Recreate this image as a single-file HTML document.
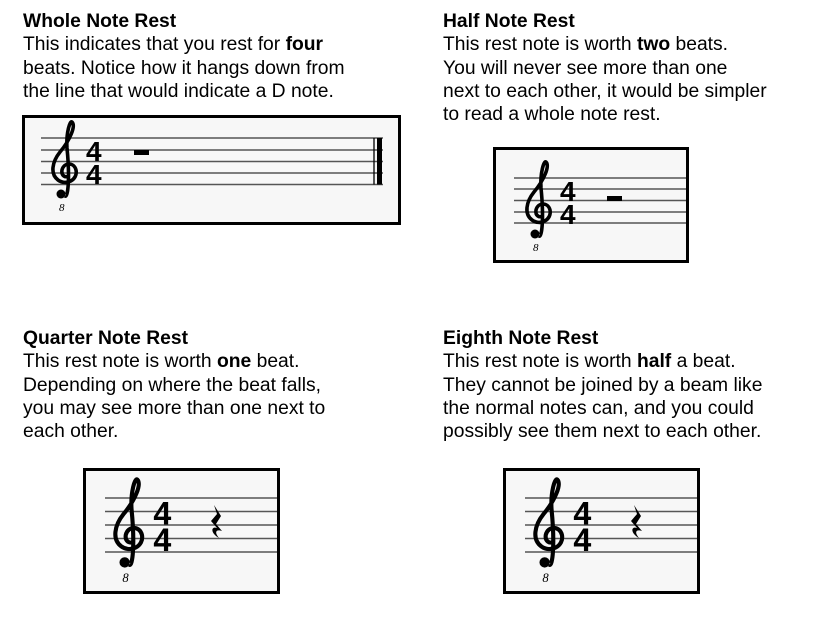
<!DOCTYPE html>
<html><head><meta charset="utf-8"><style>
body{margin:0;background:#fff;width:820px;height:618px;position:relative;overflow:hidden;font-family:"Liberation Sans",sans-serif;color:#000}
.t{position:absolute;font-size:19.3px;line-height:23.3px;white-space:nowrap}
svg{position:absolute;left:0;top:0}
</style></head><body>
<div class="t" style="left:23px;top:10px"><b>Whole Note Rest</b><br>This indicates that you rest for <b>four</b><br>beats. Notice how it hangs down from<br>the line that would indicate a D note.</div>
<div class="t" style="left:443px;top:10px"><b>Half Note Rest</b><br>This rest note is worth <b>two</b> beats.<br>You will never see more than one<br>next to each other, it would be simpler<br>to read a whole note rest.</div>
<div class="t" style="left:23px;top:327px"><b>Quarter Note Rest</b><br>This rest note is worth <b>one</b> beat.<br>Depending on where the beat falls,<br>you may see more than one next to<br>each other.</div>
<div class="t" style="left:443px;top:327px"><b>Eighth Note Rest</b><br>This rest note is worth <b>half</b> a beat.<br>They cannot be joined by a beam like<br>the normal notes can, and you could<br>possibly see them next to each other.</div>
<svg width="820" height="618">
<defs>
<g id="clef">
<path d="M15,58 C18,60 20,40 17,10 C16,-5 20,-18 22,-16 C26,-12 20,2 10,14 C2,24 0,36 8,42 C16,48 28,42 26,32 C24,24 14,24 12,32 C11,38 16,40 18,38" fill="none" stroke="#000" stroke-width="3.6"/>
<circle cx="11" cy="56" r="4.5" fill="#000"/>
<text x="9" y="73" font-family="Liberation Serif" font-style="italic" font-size="11">8</text>
<text x="36" y="23" font-family="Liberation Sans" font-weight="bold" font-size="28">4</text>
<text x="36" y="46" font-family="Liberation Sans" font-weight="bold" font-size="28">4</text>
</g>
</defs>
<!-- box1 -->
<rect x="23.5" y="116.5" width="376" height="107" fill="#f7f7f7" stroke="#000" stroke-width="3"/>
<g stroke="#555" stroke-width="1.4"><line x1="41" y1="138" x2="383" y2="138"/><line x1="41" y1="150" x2="383" y2="150"/><line x1="41" y1="161.5" x2="383" y2="161.5"/><line x1="41" y1="173" x2="383" y2="173"/><line x1="41" y1="184.5" x2="383" y2="184.5"/></g>
<use href="#clef" x="50" y="138"/>
<rect x="134" y="150" width="15" height="5" fill="#000"/>
<line x1="374" y1="138" x2="374" y2="184.5" stroke="#000" stroke-width="1.3"/>
<rect x="377" y="138" width="5" height="46.5" fill="#000"/>
<!-- box2 -->
<rect x="494.5" y="148.5" width="193" height="113" fill="#f7f7f7" stroke="#000" stroke-width="3"/>
<g stroke="#555" stroke-width="1.4"><line x1="514" y1="178" x2="686" y2="178"/><line x1="514" y1="189" x2="686" y2="189"/><line x1="514" y1="200.5" x2="686" y2="200.5"/><line x1="514" y1="212" x2="686" y2="212"/><line x1="514" y1="223" x2="686" y2="223"/></g>
<use href="#clef" x="524" y="178"/>
<rect x="607" y="196" width="15" height="5" fill="#000"/>
<!-- box3 -->
<rect x="84.5" y="469.5" width="194" height="123" fill="#f7f7f7" stroke="#000" stroke-width="3"/>
<g stroke="#555" stroke-width="1.4"><line x1="105" y1="498" x2="277" y2="498"/><line x1="105" y1="511.5" x2="277" y2="511.5"/><line x1="105" y1="525" x2="277" y2="525"/><line x1="105" y1="538.5" x2="277" y2="538.5"/><line x1="105" y1="552" x2="277" y2="552"/></g>
<g transform="translate(112,498) scale(1.15)"><use href="#clef"/></g>
<path d="M214,505 L221,516 L216,524 L222,531 C216,529 214,532 219,538 C210,533 211,526 217,528 L211,521 L217,514 Z" fill="#000"/>
<!-- box4 -->
<rect x="504.5" y="469.5" width="194" height="123" fill="#f7f7f7" stroke="#000" stroke-width="3"/>
<g stroke="#555" stroke-width="1.4"><line x1="525" y1="498" x2="697" y2="498"/><line x1="525" y1="511.5" x2="697" y2="511.5"/><line x1="525" y1="525" x2="697" y2="525"/><line x1="525" y1="538.5" x2="697" y2="538.5"/><line x1="525" y1="552" x2="697" y2="552"/></g>
<g transform="translate(532,498) scale(1.15)"><use href="#clef"/></g>
<path d="M634,505 L641,516 L636,524 L642,531 C636,529 634,532 639,538 C630,533 631,526 637,528 L631,521 L637,514 Z" fill="#000"/>
</svg>
</body></html>
